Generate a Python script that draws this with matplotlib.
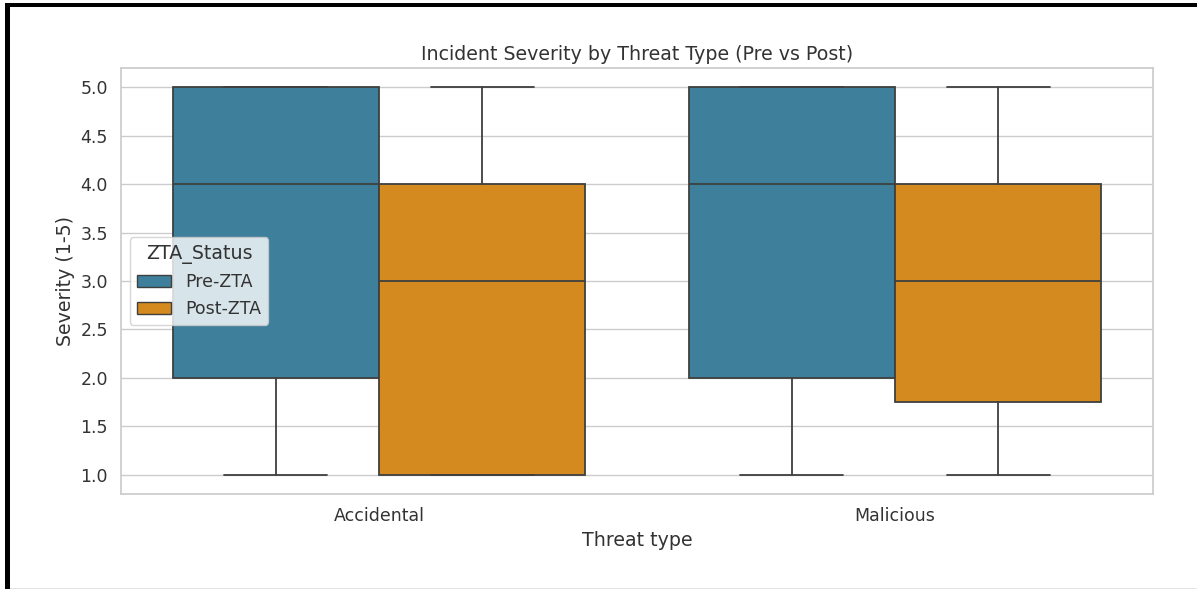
import matplotlib
matplotlib.use("Agg")
import matplotlib.pyplot as plt
import seaborn as sns
from matplotlib.patches import Patch, Rectangle

# data (box stats)
threat_types = ["Accidental", "Malicious"]
statuses = ["Pre-ZTA", "Post-ZTA"]
colors = ["#3e7f9b", "#d48a1f"]

whislo = {"Pre-ZTA": [1.0, 1.0], "Post-ZTA": [1.0, 1.0]}
q1 = {"Pre-ZTA": [2.0, 2.0], "Post-ZTA": [1.0, 1.75]}
med = {"Pre-ZTA": [4.0, 4.0], "Post-ZTA": [3.0, 3.0]}
q3 = {"Pre-ZTA": [5.0, 5.0], "Post-ZTA": [4.0, 4.0]}
whishi = {"Pre-ZTA": [5.0, 5.0], "Post-ZTA": [5.0, 5.0]}

sns.set_theme(style="whitegrid")
plt.rcParams.update({"axes.titlesize": 13.7, "axes.labelsize": 13.7,
                     "xtick.labelsize": 12.5, "ytick.labelsize": 12.5,
                     "legend.fontsize": 12.5, "legend.title_fontsize": 13.7,
                     "text.color": "#333333", "axes.labelcolor": "#333333",
                     "xtick.color": "#333333", "ytick.color": "#333333"})
fig = plt.figure(figsize=(11.97, 5.89), dpi=100)
ax = fig.add_axes([0.1011, 0.1613, 0.8622, 0.7233])

box_w = 0.4
offsets = [-0.2, 0.2]
line_c = "#3f3f3f"
for j, st in enumerate(statuses):
    stats = []
    for i, tt in enumerate(threat_types):
        stats.append(dict(whislo=whislo[st][i], q1=q1[st][i], med=med[st][i],
                          q3=q3[st][i], whishi=whishi[st][i], fliers=[]))
    pos = [i + offsets[j] for i in range(len(threat_types))]
    ax.bxp(stats, positions=pos, widths=box_w, patch_artist=True,
           showfliers=False, manage_ticks=False,
           boxprops=dict(facecolor=colors[j], edgecolor=line_c, linewidth=1.3),
           medianprops=dict(color=line_c, linewidth=1.3),
           whiskerprops=dict(color=line_c, linewidth=1.3),
           capprops=dict(color=line_c, linewidth=1.3),
           capwidths=box_w / 2)

ax.set_xlim(-0.5, 1.5)
ax.set_ylim(0.8, 5.2)
ax.set_xticks(range(len(threat_types)))
ax.set_xticklabels(threat_types)
ax.set_yticks([1.0, 1.5, 2.0, 2.5, 3.0, 3.5, 4.0, 4.5, 5.0])
ax.xaxis.grid(False)
ax.set_title("Incident Severity by Threat Type (Pre vs Post)")
ax.set_xlabel("Threat type")
ax.set_ylabel("Severity (1-5)")

handles = [Patch(facecolor=colors[k], edgecolor=line_c, label=statuses[k])
           for k in range(len(statuses))]
ax.legend(handles=handles, title="ZTA_Status", loc="center left")

# screenshot frame
fig.add_artist(Rectangle((5 / 1197, 1 - 7 / 589), 1, 4 / 589,
                         transform=fig.transFigure, color="black", lw=0))
fig.add_artist(Rectangle((5 / 1197, 0), 5 / 1197, 1 - 3 / 589,
                         transform=fig.transFigure, color="black", lw=0))
fig.add_artist(Rectangle((10 / 1197, 0), 1, 1.5 / 589,
                         transform=fig.transFigure, color="#e4e4e4", lw=0))

fig.savefig("out.png", dpi=100)
